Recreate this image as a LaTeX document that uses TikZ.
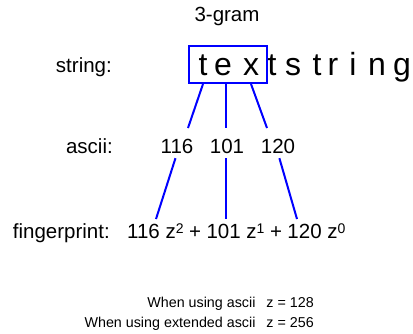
\documentclass[tikz,border=0pt]{standalone}
\usepackage{fontspec}
\setmainfont{Liberation Sans}
\newcommand\pw[1]{\raisebox{5pt}{\fontsize{14}{14}\selectfont #1}}
\newcommand\gp{\hspace{5.5pt}}
\begin{document}
\begin{tikzpicture}[x=1pt, y=-1pt,
  lab/.style={anchor=base east, inner sep=0pt, font=\fontsize{20.5}{24}\selectfont},
  num/.style={anchor=base, inner sep=0pt, font=\fontsize{20.5}{24}\selectfont},
  chr/.style={anchor=base, inner sep=0pt, font=\fontsize{32}{36}\selectfont},
  gram/.style={draw=blue, line width=2pt, minimum width=78pt, minimum height=37pt,
               inner sep=0pt},
  note/.style={anchor=north east, inner sep=0pt, align=right,
               font=\fontsize{14.3}{20}\selectfont},
  link/.style={draw=blue, line width=2pt}]

  \useasboundingbox (0,0) rectangle (413,333);

  \node[num] (title) at (227,21.5) {3-gram};

  \node[lab] (lstr) at (112,72.5)  {string:};
  \node[lab] (lasc) at (113,153)   {ascii:};
  \node[lab] (lfp)  at (110,238)   {fingerprint:};

  \node[gram] (gram) at (228,64.5) {};
  \foreach \c/\x [count=\i] in {t/203,e/223,x/251,t/272,s/293,t/317,r/333,i/353,n/377,g/402}
    \node[chr] (c\i) at (\x,75) {\c};

  \node[num] (n116) at (177,153) {116};
  \node[num] (n101) at (227,153) {101};
  \node[num] (n120) at (278,153) {120};

  \node[num, anchor=base west] (fp) at (127,238)
    {116 z\pw{2}\gp+\gp101 z\pw{1}\gp+\gp120 z\pw{0}};

  \coordinate (u1) at (188,128);
  \coordinate (u2) at (226,128);
  \coordinate (u3) at (267,128);
  \coordinate (f1) at (156,219);
  \coordinate (f2) at (226,219);
  \coordinate (f3) at (297,219);

  \draw[link] (gram.south -| c1) -- (u1);
  \draw[link] (gram.south -| u2) -- (u2);
  \draw[link] (gram.south -| c3) -- (u3);
  \draw[link, shorten <=5pt] (n116.south) -- (f1);
  \draw[link] (n101.south -| f2) ++(0,5) -- (f2);
  \draw[link, shorten <=5pt] (n120.south) -- (f3);

  \node[note] (zval) at (314,296.5)
    {When using ascii\hspace{11pt}z = 128\\When using extended ascii\hspace{11pt}z = 256};

\end{tikzpicture}
\end{document}
